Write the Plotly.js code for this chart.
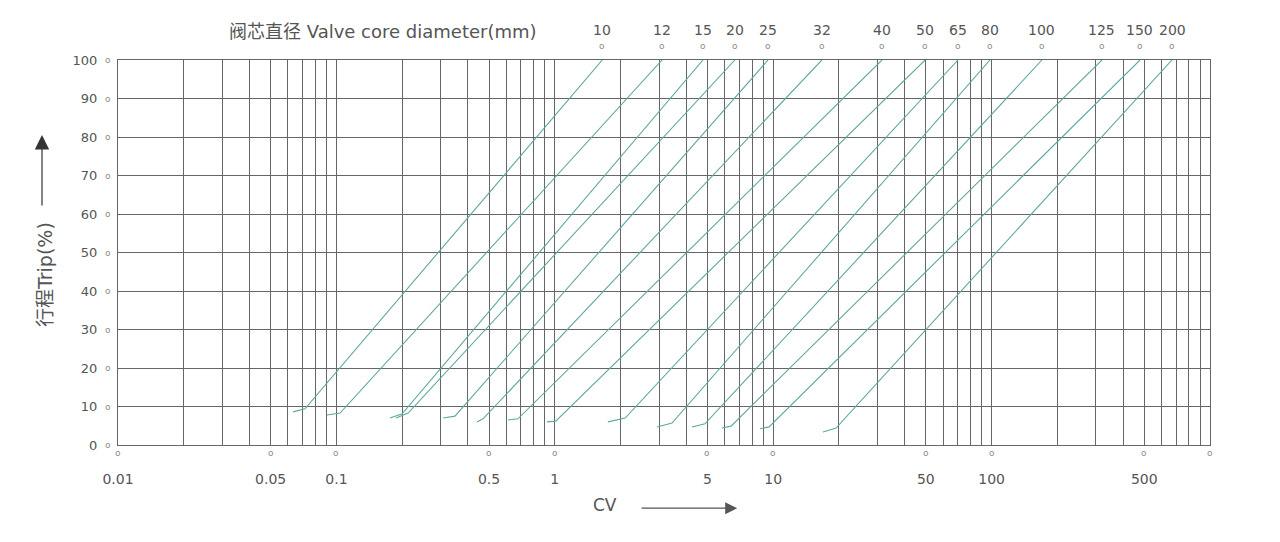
<!DOCTYPE html>
<html>
<head>
<meta charset="utf-8">
<script src="https://cdn.plot.ly/plotly-3.0.1.min.js"></script>
<style>
  html, body { margin: 0; background: #fff; }
  #chart { width: 1280px; height: 542px; }
</style>
</head>
<body>
<div id="chart"></div>
<script>
// valve core diameter (mm), one flow curve each
const diameters = [10, 12, 15, 20, 25, 32, 40, 50, 65, 80, 100, 125, 150, 200];
// CV / trip(%) where each curve starts, where the foot bends, and CV at 100% trip
const cvStart   = [0.0633, 0.0906, 0.176, 0.1875, 0.308, 0.440, 0.611, 0.921, 1.75, 2.94, 4.25, 5.83, 8.70, 16.9];
const tripStart = [8.6, 7.8, 7.0, 7.0, 7.0, 6.0, 6.5, 6.0, 6.0, 4.7, 4.7, 4.4, 4.2, 3.4];
const cvKnee    = [0.0718, 0.104, 0.200, 0.213, 0.349, 0.469, 0.678, 1.01, 2.10, 3.44, 4.87, 6.41, 9.57, 19.4];
const tripKnee  = [9.4, 8.3, 8.1, 8.3, 7.5, 6.8, 6.8, 6.2, 7.0, 5.7, 5.5, 4.9, 4.7, 4.4];
const cvTop     = [1.65, 3.10, 4.77, 6.68, 9.47, 16.7, 31.5, 49.6, 70.2, 98.3, 170, 320, 478, 670];

// axis labels
const cvLabels = [0.01, 0.05, 0.1, 0.5, 1, 5, 10, 50, 100, 500];
const tripTicks = [0, 10, 20, 30, 40, 50, 60, 70, 80, 90, 100];

// log paper grid: 1..9 in every decade, plus the 1000 edge
const gridVals = [];
for (let k = -2; k <= 2; k++) {
  for (let m = 1; m <= 9; m++) gridVals.push(Number((m * Math.pow(10, k)).toPrecision(3)));
}
gridVals.push(1000);
const gridText = gridVals.map(v => cvLabels.includes(v) ? String(v) : '');

const curveColor = '#5ea89f';
const inkColor = '#555';
const gridColor = '#666';
const latin = 'DejaVu Sans, Liberation Sans, sans-serif';
const mixed = 'DejaVu Sans, Noto Sans CJK SC, sans-serif';

const traces = diameters.map((d, i) => ({
  x: [cvStart[i], cvKnee[i], cvTop[i]],
  y: [tripStart[i], tripKnee[i], 100],
  mode: 'lines',
  line: { color: curveColor, width: 1.1 },
  name: d + ' mm',
}));

// small ring glyph, as on the printed log paper
const ring = (x, y, xref, yref) => ({
  text: 'o', x: x, y: y, xref: xref, yref: yref,
  xanchor: 'center', yanchor: 'middle', showarrow: false,
  font: { family: latin, size: 9, color: '#8a8a8a' },
});

const annotations = [];
// diameter labels above each curve top (annotation x on a log axis is log10)
diameters.forEach((d, i) => {
  annotations.push({
    text: String(d), x: Math.log10(cvTop[i]), y: 1.077, xref: 'x', yref: 'paper',
    xanchor: 'center', yanchor: 'middle', showarrow: false,
    font: { family: latin, size: 14, color: inkColor },
  });
  annotations.push(ring(Math.log10(cvTop[i]), 1.037, 'x', 'paper'));
});
// rings under labelled CV ticks
cvLabels.concat([1000]).forEach(v => annotations.push(ring(Math.log10(v), -0.02, 'x', 'paper')));
// rings beside trip ticks
tripTicks.forEach(t => annotations.push(ring(-0.009, t, 'paper', 'y')));

annotations.push(
  {
    text: '阀芯直径 Valve core diameter(mm)',
    xref: 'paper', yref: 'paper', x: 0.2427, y: 1.073,
    xanchor: 'center', yanchor: 'middle', showarrow: false,
    font: { family: mixed, size: 18, color: inkColor },
  },
  {
    text: 'CV',
    xref: 'paper', yref: 'paper', x: 0.446, y: -0.156,
    xanchor: 'center', yanchor: 'middle', showarrow: false,
    font: { family: latin, size: 17, color: inkColor },
  },
  {
    text: '',
    xref: 'paper', yref: 'paper', x: 0.567, y: -0.164,
    ax: -97, ay: 0, showarrow: true,
    arrowhead: 2, arrowsize: 2, arrowwidth: 1.2, arrowcolor: '#555',
  },
  {
    text: '行程Trip(%)',
    xref: 'paper', yref: 'paper', x: -0.0668, y: 0.4416,
    xanchor: 'center', yanchor: 'middle', textangle: -90, showarrow: false,
    font: { family: mixed, size: 19, color: inkColor },
  },
  {
    text: '',
    xref: 'paper', yref: 'paper', x: -0.0696, y: 0.805,
    ax: 0, ay: 72, showarrow: true,
    arrowhead: 2, arrowsize: 2.4, arrowwidth: 1.2, arrowcolor: '#333',
  }
);

const layout = {
  width: 1280,
  height: 542,
  margin: { l: 118, r: 70, t: 60, b: 97 },
  paper_bgcolor: '#fff',
  plot_bgcolor: '#fff',
  showlegend: false,
  font: { family: latin, size: 13, color: inkColor },
  xaxis: {
    type: 'log',
    range: [-2, 3],
    autorange: false,
    tickmode: 'array',
    tickvals: gridVals,
    ticktext: gridText,
    ticks: '',
    ticklabelstandoff: 21,
    tickfont: { family: latin, size: 14, color: inkColor },
    showgrid: true,
    gridcolor: gridColor,
    gridwidth: 1,
    showline: true,
    mirror: true,
    linecolor: gridColor,
    linewidth: 1,
    zeroline: false,
  },
  yaxis: {
    range: [0, 100],
    autorange: false,
    tickmode: 'array',
    tickvals: tripTicks,
    ticks: '',
    ticklabelstandoff: 17,
    tickfont: { family: latin, size: 13, color: inkColor },
    showgrid: true,
    gridcolor: gridColor,
    gridwidth: 1,
    showline: true,
    mirror: true,
    linecolor: gridColor,
    linewidth: 1,
    zeroline: false,
  },
  annotations: annotations,
};

Plotly.newPlot('chart', traces, layout, { displayModeBar: false, staticPlot: true });
</script>
</body>
</html>
